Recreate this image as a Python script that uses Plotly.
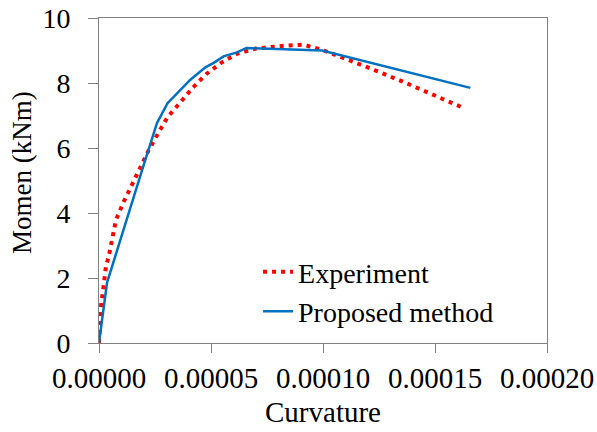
import plotly.graph_objects as go

# Experiment (dotted red)
exp_x = [0.0, 0.6e-6, 1.0e-6, 2.1e-6, 3.1e-6, 4.3e-6, 5.8e-6, 7.6e-6, 1.1e-5, 1.47e-5,
         1.84e-5, 2.21e-5, 2.63e-5, 3.06e-5, 3.6e-5, 4.18e-5, 4.78e-5, 5.45e-5, 6.16e-5,
         7.0e-5, 8.32e-5, 9.13e-5, 9.96e-5, 1.114e-4, 1.233e-4, 1.353e-4, 1.471e-4, 1.628e-4]
exp_y = [0.0, 0.62, 1.2, 1.77, 2.36, 2.65, 3.23, 3.79, 4.34, 4.86,
         5.39, 5.92, 6.44, 6.95, 7.38, 7.85, 8.27, 8.62, 8.90,
         9.06, 9.15, 9.18, 9.02, 8.72, 8.39, 8.05, 7.69, 7.23]

# Proposed method (solid blue)
prop_x = [0.0, 3.6e-6, 2.07e-5, 2.59e-5, 3.06e-5, 3.48e-5, 4.08e-5, 4.75e-5, 5.12e-5,
          5.56e-5, 6.16e-5, 6.58e-5, 9.96e-5, 1.658e-4]
prop_y = [0.0, 1.86, 5.64, 6.77, 7.38, 7.69, 8.10, 8.48, 8.62,
          8.82, 8.94, 9.08, 9.0, 7.85]

x_ticks = [0.0, 0.00005, 0.0001, 0.00015, 0.0002]
y_ticks = [0, 2, 4, 6, 8, 10]

FONT = "Liberation Serif, Times New Roman, serif"

fig = go.Figure()
fig.add_trace(go.Scatter(x=exp_x, y=exp_y, mode="lines", name="Experiment",
                         line=dict(color="#FF0000", width=4, dash="4px,5px")))
fig.add_trace(go.Scatter(x=prop_x, y=prop_y, mode="lines", name="Proposed method",
                         line=dict(color="#0070C0", width=2.5)))

fig.update_layout(
    width=597, height=432,
    margin=dict(l=99, r=50, t=18, b=89),
    paper_bgcolor="white", plot_bgcolor="white",
    font=dict(family=FONT, size=29, color="black"),
    showlegend=True,
    legend=dict(x=0.355, y=0.295, xanchor="left", yanchor="top",
                bgcolor="rgba(0,0,0,0)", font=dict(size=28, family=FONT),
                tracegroupgap=0),
    xaxis=dict(range=[0, 0.0002], tickvals=x_ticks, tickformat=".5f",
               showgrid=False, zeroline=False, showline=True, linecolor="#808080",
               linewidth=1, mirror=True, ticks="outside", ticklen=9,
               tickcolor="#808080", tickfont=dict(size=29), automargin=False,
               title=dict(text="Curvature", font=dict(size=29), standoff=8)),
    yaxis=dict(range=[0, 10], tickvals=y_ticks, automargin=False,
               showgrid=False, zeroline=False, showline=True, linecolor="#808080",
               linewidth=1, mirror=True, ticks="outside", ticklen=10,
               tickcolor="#808080", tickfont=dict(size=28), ticklabelstandoff=12),
    annotations=[dict(text="Momen (kNm)", textangle=-90, xref="paper", yref="paper",
                      x=(22 - 99) / 447.5, y=(343 - 172) / 325, xanchor="center",
                      yanchor="middle", showarrow=False, font=dict(size=27, family=FONT))],
)

fig.write_html("out.html")
